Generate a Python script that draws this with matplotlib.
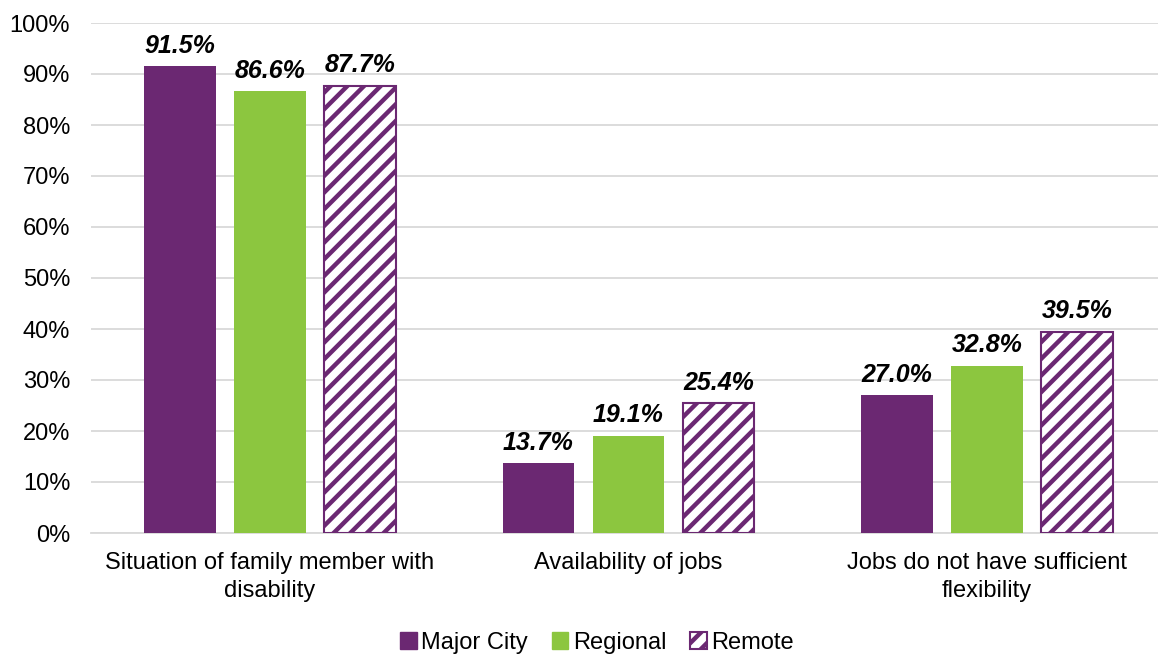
import matplotlib
matplotlib.use("Agg")
import matplotlib.pyplot as plt
from matplotlib.patches import Patch
import numpy as np

categories = ["Situation of family member with\ndisability",
              "Availability of jobs",
              "Jobs do not have sufficient\nflexibility"]
series_names = ["Major City", "Regional", "Remote"]
major_city = [91.5, 13.7, 27.0]
regional = [86.6, 19.1, 32.8]
remote = [87.7, 25.4, 39.5]
y_ticks = [0, 10, 20, 30, 40, 50, 60, 70, 80, 90, 100]

PURPLE = "#6B2872"
GREEN = "#8CC63F"
GRID = "#D9D9D9"
FS = 17

plt.rcParams["font.family"] = ["Liberation Sans", "DejaVu Sans"]
plt.rcParams["hatch.linewidth"] = 3.2
plt.rcParams["hatch.color"] = PURPLE

fig = plt.figure(figsize=(11.58, 6.55), dpi=100)
ax = fig.add_axes([91 / 1158, 1 - 533 / 655, 1 - 91 / 1158, (533 - 23) / 655])

x = np.arange(len(categories))
width = 0.2
step = 0.251

styles = [
    dict(color=PURPLE),
    dict(color=GREEN),
    dict(facecolor="white", edgecolor=PURPLE, hatch="//", linewidth=1.5),
]
for i, (vals, st) in enumerate(zip([major_city, regional, remote], styles)):
    bars = ax.bar(x + (i - 1) * step, vals, width, zorder=3, **st)
    for b, v in zip(bars, vals):
        ax.annotate(f"{v:.1f}%", (b.get_x() + b.get_width() / 2, v),
                    xytext=(0, 6), textcoords="offset points",
                    ha="center", va="bottom", fontsize=18,
                    fontweight="bold", fontstyle="italic", color="black")

ax.set_ylim(0, 100)
ax.set_xlim(-0.499, 2.477)
ax.set_yticks(y_ticks)
ax.set_yticklabels([f"{t}%" for t in y_ticks], fontsize=FS)
ax.set_xticks(x)
ax.set_xticklabels(categories, fontsize=FS, linespacing=1.32)
ax.tick_params(axis="both", length=0, colors="black")
ax.tick_params(axis="y", pad=15)
ax.tick_params(axis="x", pad=14)
ax.yaxis.grid(True, color=GRID, linewidth=1.3, zorder=0)
ax.set_axisbelow(True)
for s in ["top", "right", "left"]:
    ax.spines[s].set_visible(False)
ax.spines["bottom"].set_color(GRID)
ax.spines["bottom"].set_linewidth(1.3)

handles = [
    Patch(facecolor=PURPLE, edgecolor=PURPLE),
    Patch(facecolor=GREEN, edgecolor=GREEN),
    Patch(facecolor="white", edgecolor=PURPLE, hatch="//", linewidth=1.5),
]
fig.legend(handles, series_names, loc="center", bbox_to_anchor=(597 / 1158, 1 - 643 / 655),
           ncol=3, frameon=False, fontsize=FS, handlelength=0.7, handleheight=0.7,
           handletextpad=0.2, columnspacing=1.0)

fig.savefig("out.png", dpi=100)
